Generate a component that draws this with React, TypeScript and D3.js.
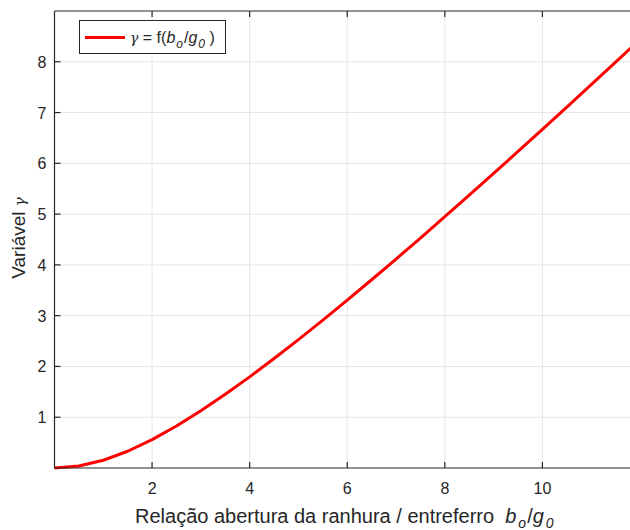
import React from "react";
import * as d3 from "d3";

// Carter coefficient gamma against slot opening / air gap ratio
const ratio = [0, 0.5, 1, 1.5, 2, 2.5, 3, 3.5, 4, 4.5, 5, 5.5, 6, 6.5, 7, 7.5, 8, 8.5, 9, 9.5, 10, 10.5, 11, 11.5, 12];
const gamma = [0, 0.039, 0.153, 0.330, 0.559, 0.827, 1.127, 1.451, 1.795, 2.155, 2.528, 2.912, 3.305, 3.707, 4.115, 4.529, 4.949, 5.373, 5.801, 6.234, 6.669, 7.108, 7.549, 7.993, 8.440];
const xTicks = [2, 4, 6, 8, 10, 12];
const xTickLabels = ["2", "4", "6", "8", "10", ""];
const yTicks = [1, 2, 3, 4, 5, 6, 7, 8];

const W = 630;
const H = 530;
const left = 54.5;
const top = 11;
const bottom = 468;
const right = 640;
const font = "'Liberation Sans', Arial, Helvetica, sans-serif";
const ink = "#262626";

export default function App() {
  const x = d3.scaleLinear().domain([0, 12]).range([left, right]);
  const y = d3.scaleLinear().domain([0, 9]).range([bottom, top]);
  const pts = ratio.map((r, i) => [r, gamma[i]] as [number, number]);
  const line = d3.line<[number, number]>().x((d) => x(d[0])).y((d) => y(d[1]));

  return (
    <svg width={W} height={H} style={{ position: "absolute", left: 0, top: 0, background: "#fff" }} fontFamily={font}>
      <rect x={0} y={0} width={W} height={H} fill="#fff" />
      {/* grid */}
      {xTicks.map((t) => (
        <line key={"gx" + t} x1={x(t)} x2={x(t)} y1={top} y2={bottom} stroke="#e6e6e6" strokeWidth={1} />
      ))}
      {yTicks.map((t) => (
        <line key={"gy" + t} x1={left} x2={right} y1={y(t)} y2={y(t)} stroke="#e6e6e6" strokeWidth={1} />
      ))}
      {/* curve */}
      <path d={line(pts) || ""} fill="none" stroke="#ff0000" strokeWidth={3} strokeLinejoin="round" />
      {/* axes box */}
      <line x1={left} x2={right} y1={bottom} y2={bottom} stroke={ink} strokeWidth={1.2} />
      <line x1={left} x2={right} y1={top} y2={top} stroke={ink} strokeWidth={1.2} />
      <line x1={left} x2={left} y1={top} y2={bottom} stroke={ink} strokeWidth={1.2} />
      {xTicks.map((t, i) => (
        <g key={"tx" + t}>
          <line x1={x(t)} x2={x(t)} y1={bottom} y2={bottom - 6} stroke={ink} strokeWidth={1.2} />
          <line x1={x(t)} x2={x(t)} y1={top} y2={top + 6} stroke={ink} strokeWidth={1.2} />
          {xTickLabels[i] && (
            <text x={x(t)} y={bottom + 26} textAnchor="middle" fontSize={16} fill={ink}>
              {xTickLabels[i]}
            </text>
          )}
        </g>
      ))}
      {yTicks.map((t) => (
        <g key={"ty" + t}>
          <line x1={left} x2={left + 6} y1={y(t)} y2={y(t)} stroke={ink} strokeWidth={1.2} />
          <text x={left - 8} y={y(t) + 6} textAnchor="end" fontSize={16} fill={ink}>
            {t}
          </text>
        </g>
      ))}
      {/* axis titles */}
      <text x={135} y={523} fontSize={20} fill={ink}>
        Relação abertura da ranhura / entreferro{"\u00a0\u00a0"}
        <tspan fontStyle="italic">b</tspan>
        <tspan fontStyle="italic" fontSize={14} dx={2} dy={5}>o</tspan>
        <tspan dx={1} dy={-5}>/</tspan>
        <tspan fontStyle="italic">g</tspan>
        <tspan fontStyle="italic" fontSize={14} dx={2} dy={5}>0</tspan>
      </text>
      <text transform="translate(25,238) rotate(-90)" textAnchor="middle" fontSize={19} fill={ink}>
        Variável{" "}
        <tspan fontFamily="'DejaVu Serif', serif" fontStyle="italic" fontSize={15}>γ</tspan>
      </text>
      {/* legend */}
      <rect x={79.5} y={20.5} width={146} height={33} fill="#fff" stroke={ink} strokeWidth={1} />
      <line x1={85} x2={125} y1={37.5} y2={37.5} stroke="#ff0000" strokeWidth={3} />
      <text x={130} y={43} fontSize={16} fill={ink}>
        <tspan fontFamily="'DejaVu Serif', serif" fontStyle="italic" fontSize={14}>γ</tspan>
        {" = f("}
        <tspan fontStyle="italic">b</tspan>
        <tspan fontStyle="italic" fontSize={12} dx={1} dy={5}>o</tspan>
        <tspan dx={1} dy={-5}>/</tspan>
        <tspan fontStyle="italic">g</tspan>
        <tspan fontStyle="italic" fontSize={12} dx={1} dy={5}>0</tspan>
        <tspan dy={-5}>{"\u00a0)"}</tspan>
      </text>
    </svg>
  );
}
